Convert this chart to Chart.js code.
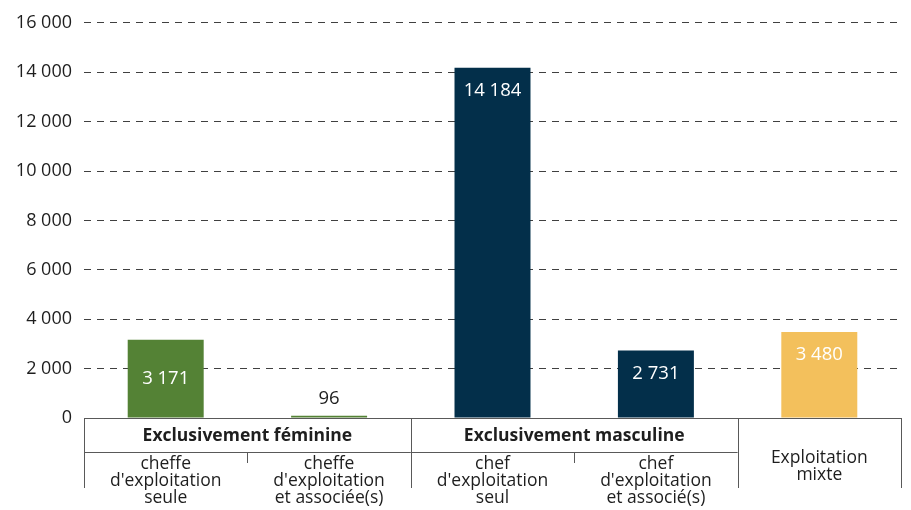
<!DOCTYPE html>
<html lang="fr">
<head>
<meta charset="utf-8">
<script src="https://cdn.jsdelivr.net/npm/chart.js@4"></script>
<style>
  html, body { margin: 0; padding: 0; background: #fff; }
  #wrap { width: 911px; height: 510px; }
</style>
</head>
<body>
<div id="wrap"><canvas id="farmChart" width="911" height="510"></canvas></div>
<script>
// categories, groups and values
const categories = ['cheffe seule', 'cheffe et associées', 'chef seul', 'chef et associés', 'mixte'];
const subLabels = [
    ['cheffe', "d'exploitation", 'seule'],
    ['cheffe', "d'exploitation", 'et associée(s)'],
    ['chef', "d'exploitation", 'seul'],
    ['chef', "d'exploitation", 'et associé(s)'],
    ['Exploitation', 'mixte']
];
const groupLabels = ['Exclusivement féminine', 'Exclusivement masculine'];
const groupSpans = [[0, 1], [2, 3]];
const values = [3171, 96, 14184, 2731, 3480];
const barColors = ['#548235', '#548235', '#032f4a', '#032f4a', '#f3c05c'];
const labelPlacement = ['center', 'outside', 'end', 'end', 'end'];

const FONT = '"Open Sans", sans-serif';
const TEXT = '#1e1e1e';
const LINE = '#595959';

function frNumber(v) {
    return String(Math.round(v)).replace(/\B(?=(\d{3})+(?!\d))/g, ' ');
}

// value labels on the bars
const valueLabels = {
    id: 'valueLabels',
    afterDatasetsDraw(chart) {
        const ctx = chart.ctx;
        const meta = chart.getDatasetMeta(0);
        ctx.save();
        ctx.font = '18.5px ' + FONT;
        ctx.textAlign = 'center';
        ctx.textBaseline = 'middle';
        meta.data.forEach((bar, i) => {
            const mode = labelPlacement[i];
            let y;
            if (mode === 'outside') {
                y = bar.y - 17;
                ctx.fillStyle = TEXT;
            } else if (mode === 'center') {
                y = (bar.y + bar.base) / 2;
                ctx.fillStyle = '#ffffff';
            } else {
                y = bar.y + 23;
                ctx.fillStyle = '#ffffff';
            }
            ctx.fillText(frNumber(values[i]), bar.x, y);
        });
        ctx.restore();
    }
};

// grouped category table under the x axis
const categoryTable = {
    id: 'categoryTable',
    afterDraw(chart) {
        const ctx = chart.ctx;
        const x = chart.scales.x;
        const area = chart.chartArea;
        const y0 = area.bottom;
        const step = (area.right - area.left) / categories.length;
        const edge = i => area.left + i * step;
        const rowH = 34;
        const tableH = 70;

        ctx.save();
        ctx.strokeStyle = LINE;
        ctx.lineWidth = 1;
        ctx.beginPath();
        // outer and group separators
        [0, 2, 4, 5].forEach(i => {
            const px = Math.round(edge(i)) + 0.5;
            ctx.moveTo(px, y0);
            ctx.lineTo(px, y0 + tableH);
        });
        // line under the group headers
        ctx.moveTo(edge(0), y0 + rowH + 0.5);
        ctx.lineTo(edge(4), y0 + rowH + 0.5);
        // short ticks between sub categories
        [1, 3].forEach(i => {
            const px = Math.round(edge(i)) + 0.5;
            ctx.moveTo(px, y0 + rowH);
            ctx.lineTo(px, y0 + rowH + 11);
        });
        ctx.stroke();

        ctx.fillStyle = TEXT;
        ctx.textAlign = 'center';
        ctx.textBaseline = 'middle';

        ctx.font = 'bold 17.5px ' + FONT;
        groupSpans.forEach((span, g) => {
            const cx = (edge(span[0]) + edge(span[1] + 1)) / 2;
            ctx.fillText(groupLabels[g], cx, y0 + 18);
        });

        ctx.font = '17.5px ' + FONT;
        subLabels.forEach((lines, i) => {
            const cx = x.getPixelForValue(i);
            const top = lines.length === 2 ? y0 + 40 : y0 + 46;
            lines.forEach((t, k) => ctx.fillText(t, cx, top + k * 17));
        });
        ctx.restore();
    }
};

const ctx = document.getElementById('farmChart').getContext('2d');
const farmChart = new Chart(ctx, {
    type: 'bar',
    data: {
        labels: categories,
        datasets: [
            {
                data: values,
                backgroundColor: barColors,
                borderWidth: 0,
                barPercentage: 0.465,
                categoryPercentage: 1
            }
        ]
    },
    options: {
        responsive: false,
        animation: false,
        devicePixelRatio: 1,
        layout: {
            padding: { left: 0, right: 10, top: 10, bottom: 84 }
        },
        scales: {
            x: {
                ticks: { display: false },
                grid: { display: false },
                border: { display: true, color: LINE, width: 1 }
            },
            y: {
                min: 0,
                max: 16000,
                afterFit(scale) { scale.width = 84; },
                ticks: {
                    stepSize: 2000,
                    color: TEXT,
                    padding: 12,
                    font: { family: FONT, size: 18 },
                    callback: v => frNumber(v)
                },
                grid: {
                    color: ctx => ctx.tick.value === 0 ? 'rgba(0,0,0,0)' : '#404040',
                    drawTicks: false
                },
                border: { display: false, dash: [7, 6] }
            }
        },
        plugins: {
            legend: { display: false },
            tooltip: { enabled: false }
        }
    },
    plugins: [valueLabels, categoryTable]
});
</script>
</body>
</html>
